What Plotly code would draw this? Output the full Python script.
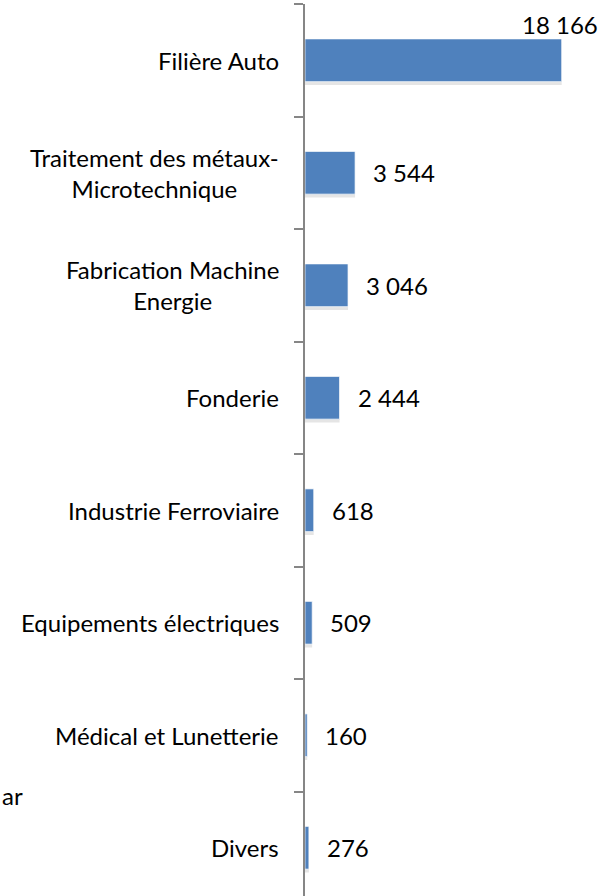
import plotly.graph_objects as go

categories = [
    "Filière Auto",
    "Traitement des métaux-<br>Microtechnique",
    "Fabrication Machine<br>Energie",
    "Fonderie",
    "Industrie Ferroviaire",
    "Equipements électriques",
    "Médical et Lunetterie",
    "Divers",
]
values = [18166, 3544, 3046, 2444, 618, 509, 160, 276]
value_labels = [f"{v:,}".replace(",", " ") for v in values]
stray_text = "ar"

FONT = "Lato"
FS = 24
BLUE = "#4F81BD"
AXIS = "#868686"

W, H = 602, 896
ML, MR, MT, MB = 305, 0, 4, 0
PW = W - ML - MR
PH = H - MT - MB

fig = go.Figure()

# soft shadow
fig.add_trace(go.Bar(
    orientation="h", x=values, y=categories, width=0.38, offset=-0.19 + 0.03,
    marker=dict(color="rgba(0,0,0,0.10)", line=dict(width=0)),
    hoverinfo="skip", showlegend=False,
))
fig.add_trace(go.Bar(
    orientation="h", x=values, y=categories, width=0.38, offset=-0.19,
    marker=dict(color=BLUE, line=dict(color="rgba(255,255,255,0.7)", width=1)),
    showlegend=False,
))

annotations = []
for cat in categories:
    annotations.append(dict(
        x=0, y=cat, xref="x", yref="y", text=cat, showarrow=False,
        xanchor="right", yanchor="middle", align="center", xshift=-24,
        font=dict(family=FONT, size=FS, color="#000000"),
    ))
for i, (cat, v, lab) in enumerate(zip(categories, values, value_labels)):
    if i == 0:
        annotations.append(dict(
            x=v, y=cat, xref="x", yref="y", text=lab, showarrow=False,
            xanchor="right", yanchor="middle", xshift=38, yshift=36,
            font=dict(family=FONT, size=FS, color="#000000"),
        ))
    else:
        annotations.append(dict(
            x=v, y=cat, xref="x", yref="y", text=lab, showarrow=False,
            xanchor="left", yanchor="middle", xshift=16,
            font=dict(family=FONT, size=FS, color="#000000"),
        ))
annotations.append(dict(
    x=-ML / PW, y=(H - 795) / PH, xref="paper", yref="paper", text=stray_text,
    showarrow=False, xanchor="left", yanchor="middle",
    font=dict(family=FONT, size=FS, color="#000000"),
))

xmax = 18166 * PW / 256.7
n_vis = PH / 112.5

fig.update_layout(
    width=W, height=H,
    margin=dict(l=ML, r=MR, t=MT, b=MB, pad=0),
    paper_bgcolor="white", plot_bgcolor="white",
    barmode="overlay",
    font=dict(family=FONT, size=FS, color="#000000"),
    xaxis=dict(range=[0, xmax], visible=False, showgrid=False, zeroline=False),
    yaxis=dict(
        type="category", categoryorder="array", categoryarray=categories,
        range=[-0.5 + n_vis, -0.5],
        showticklabels=False, showgrid=False, zeroline=False,
        showline=True, linecolor=AXIS, linewidth=2,
        ticks="outside", tickson="boundaries", ticklen=9,
        tickcolor=AXIS, tickwidth=2,
    ),
    annotations=annotations,
)

fig.write_html(
    "out.html",
    config={"displayModeBar": False},
    post_script="document.body.style.margin='0';document.body.style.overflow='hidden';",
)
